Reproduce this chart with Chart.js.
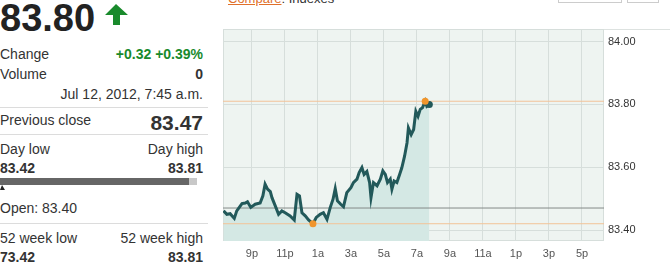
<!DOCTYPE html>
<html>
<head>
<meta charset="utf-8">
<script src="https://cdn.jsdelivr.net/npm/chart.js@4.4.1/dist/chart.umd.min.js"></script>
<style>
  html, body { margin: 0; padding: 0; background: #fff; }
  body { width: 670px; height: 266px; position: relative; overflow: hidden;
         font-family: Arial, "Liberation Sans", sans-serif; color: #333; }
  .t { position: absolute; font-size: 14px; line-height: 1; white-space: nowrap; }
  .r { right: 467px; text-align: right; }
  .b { font-weight: bold; }
  .sep { position: absolute; left: 0; width: 208px; height: 1px; background: #dcdcdc; }
  #chartBox { position: absolute; left: 210px; top: 0; width: 460px; height: 266px; }
</style>
</head>
<body>
<!-- left quote panel -->
<div class="t b" style="left:0;top:-1px;font-size:38px;color:#222;">83.80</div>
<svg style="position:absolute;left:104px;top:4px" width="26" height="22" viewBox="0 0 26 22">
  <polygon points="12,0 24,11 16,11 16,21 9,21 9,11 1,11" fill="#198a2c"/>
</svg>
<div class="t" style="left:0;top:46.5px;">Change</div>
<div class="t r b" style="top:46.5px;color:#198a2c;">+0.32 +0.39%</div>
<div class="t" style="left:0;top:66.5px;">Volume</div>
<div class="t r b" style="top:66.5px;">0</div>
<div class="t r" style="top:86.5px;">Jul 12, 2012, 7:45 a.m.</div>
<div class="sep" style="top:107px"></div>
<div class="t" style="left:0;top:112.5px;">Previous close</div>
<div class="t r b" style="top:112px;font-size:21px;">83.47</div>
<div class="sep" style="top:134px"></div>
<div class="t" style="left:0;top:141.8px;">Day low</div>
<div class="t r" style="top:141.8px;">Day high</div>
<div class="t b" style="left:0;top:161px;">83.42</div>
<div class="t r b" style="top:161px;">83.81</div>
<div style="position:absolute;left:0;top:178px;width:189px;height:7px;background:#666;"></div>
<div style="position:absolute;left:189px;top:178px;width:8px;height:7px;background:#c8c8c8;"></div>
<svg style="position:absolute;left:0;top:185px" width="6" height="6"><polygon points="0,5 2,0 5,5" fill="#222"/></svg>
<div class="t" style="left:0;top:201px;">Open: 83.40</div>
<div class="sep" style="top:223px"></div>
<div class="t" style="left:0;top:230.5px;">52 week low</div>
<div class="t r" style="top:230.5px;">52 week high</div>
<div class="t b" style="left:0;top:249.5px;">73.42</div>
<div class="t r b" style="top:249.5px;">83.81</div>

<!-- top strip (cut off) -->
<div class="t" style="left:228px;top:-8px;font-size:13px;"><span style="color:#e0702a;text-decoration:underline;">Compare</span>: Indexes</div>
<div style="position:absolute;left:558px;top:-9px;width:62px;height:10px;border:1px solid #ccc;"></div>
<div style="position:absolute;left:627px;top:-9px;width:30px;height:10px;border:1px solid #ccc;"></div>
<div style="position:absolute;left:223px;top:29px;width:447px;height:1px;background:#dde2e0;"></div>

<div id="chartBox"><canvas id="quoteChart"></canvas></div>

<script>
// price trace, Jul 11 7:15 p.m. -> Jul 12 7:45 a.m.
const times = ['19:17','19:29','19:41','19:56','20:05','20:24','20:36','20:44','20:56','21:12',
  '21:30','21:40','21:48','21:57','22:07','22:13','22:25','22:37','22:49','23:01',
  '23:19','23:34','23:44','23:53','00:02','00:14','00:26','00:42','00:54','01:08',
  '01:20','01:33','01:45','01:55','02:03','02:11','02:23','02:33','02:45','03:00',
  '03:09','03:22','03:30','03:40','03:48','03:58','04:08','04:13','04:22','04:35',
  '04:47','04:56','05:05','05:13','05:23','05:29','05:37','05:47','05:57','06:05',
  '06:15','06:24','06:29','06:39','06:48','06:56','07:04','07:12','07:20','07:30',
  '07:36','07:45'];
const prices = [83.461,83.450,83.452,83.437,83.461,83.484,83.486,83.490,83.472,83.482,
  83.486,83.509,83.546,83.530,83.522,83.503,83.477,83.450,83.461,83.455,
  83.445,83.432,83.514,83.509,83.455,83.445,83.432,83.420,83.440,83.450,
  83.455,83.434,83.472,83.498,83.532,83.493,83.482,83.474,83.519,83.535,
  83.551,83.562,83.583,83.599,83.577,83.586,83.551,83.503,83.551,83.541,
  83.562,83.588,83.577,83.551,83.562,83.530,83.556,83.551,83.577,83.598,
  83.635,83.678,83.725,83.704,83.720,83.778,83.762,83.784,83.789,83.810,
  83.794,83.800];

const prevClose = 83.47;
const dayHigh = 83.81;
const dayLow = 83.42;
const dayHighTime = '07:30';
const dayLowTime = '00:42';

const tickTimes = ['21:00','23:00','01:00','03:00','05:00','07:00','09:00','11:00','13:00','15:00','17:00'];
const tickLabels = ['9p','11p','1a','3a','5a','7a','9a','11a','1p','3p','5p'];
const yTicks = [83.40, 83.60, 83.80, 84.00];

const axisStart = '19:15';
const axisEnd = '18:20';
const yMin = 83.365, yMax = 84.04;

// minutes since 7 p.m. on Jul 11
function toMin(s) {
  const [h, m] = s.split(':').map(Number);
  let v = h * 60 + m - 19 * 60;
  if (v < 0) v += 24 * 60;
  return v;
}

const xMin = toMin(axisStart), xMax = toMin(axisEnd) + 24 * 60 * (toMin(axisEnd) < toMin(axisStart) ? 1 : 0);
const pts = times.map((t, i) => ({ x: toMin(t), y: prices[i] }));
const hline = v => [{ x: xMin, y: v }, { x: xMax, y: v }];

const plotBg = {
  id: 'plotBg',
  beforeDraw(chart) {
    const { ctx, chartArea: a } = chart;
    ctx.save();
    ctx.fillStyle = '#eef4f1';
    ctx.fillRect(a.left, a.top, a.right - a.left, a.bottom - a.top);
    ctx.strokeStyle = '#d6dedb';
    ctx.lineWidth = 1;
    ctx.strokeRect(a.left + 0.5, a.top + 0.5, a.right - a.left - 1, a.bottom - a.top - 1);
    ctx.restore();
  }
};

new Chart(document.getElementById('quoteChart'), {
  type: 'line',
  data: {
    datasets: [
      {
        data: pts,
        order: 1,
        borderColor: '#22595a',
        borderWidth: 3,
        backgroundColor: '#d4e8e4',
        fill: 'start',
        tension: 0,
        pointRadius: ctx => ctx.dataIndex === pts.length - 1 ? 3.5 : 0,
        pointBackgroundColor: '#22595a',
        pointBorderWidth: 0
      },
      {
        data: [{ x: toMin(dayHighTime), y: dayHigh }, { x: toMin(dayLowTime), y: dayLow }],
        order: 0,
        showLine: false,
        pointRadius: 3.5,
        pointBackgroundColor: '#f0952c',
        pointBorderWidth: 0
      },
      { data: hline(prevClose), order: 2, borderColor: '#848a88', borderWidth: 1, pointRadius: 0 },
      { data: hline(dayHigh), order: 2, borderColor: '#f2c398', borderWidth: 1, pointRadius: 0 },
      { data: hline(dayLow), order: 2, borderColor: '#f2c398', borderWidth: 1, pointRadius: 0 }
    ]
  },
  options: {
    responsive: true,
    maintainAspectRatio: false,
    animation: false,
    layout: { padding: { left: 13, top: 29, right: 0, bottom: 0 } },
    plugins: {
      legend: { display: false },
      tooltip: { enabled: false },
      filler: { drawTime: 'beforeDatasetsDraw' }
    },
    scales: {
      x: {
        type: 'linear',
        min: xMin,
        max: xMax,
        afterBuildTicks: axis => { axis.ticks = tickTimes.map(t => ({ value: toMin(t) })); },
        afterFit: axis => { axis.height = 25; },
        grid: { color: '#d6dedb', drawTicks: false },
        border: { display: false },
        ticks: {
          padding: 6,
          color: '#555',
          font: { family: 'Arial, "Liberation Sans"', size: 11 },
          maxRotation: 0,
          autoSkip: false,
          callback: (v) => tickLabels[tickTimes.findIndex(t => toMin(t) === v)]
        }
      },
      y: {
        position: 'right',
        min: yMin,
        max: yMax,
        afterBuildTicks: axis => { axis.ticks = yTicks.map(v => ({ value: v })); },
        afterFit: axis => { axis.width = 66; },
        grid: { color: '#d6dedb', drawTicks: false },
        border: { display: false },
        ticks: {
          padding: 4,
          color: '#333',
          font: { family: 'Arial, "Liberation Sans"', size: 11 },
          callback: v => v.toFixed(2)
        }
      }
    }
  },
  plugins: [plotBg]
});
</script>
</body>
</html>
